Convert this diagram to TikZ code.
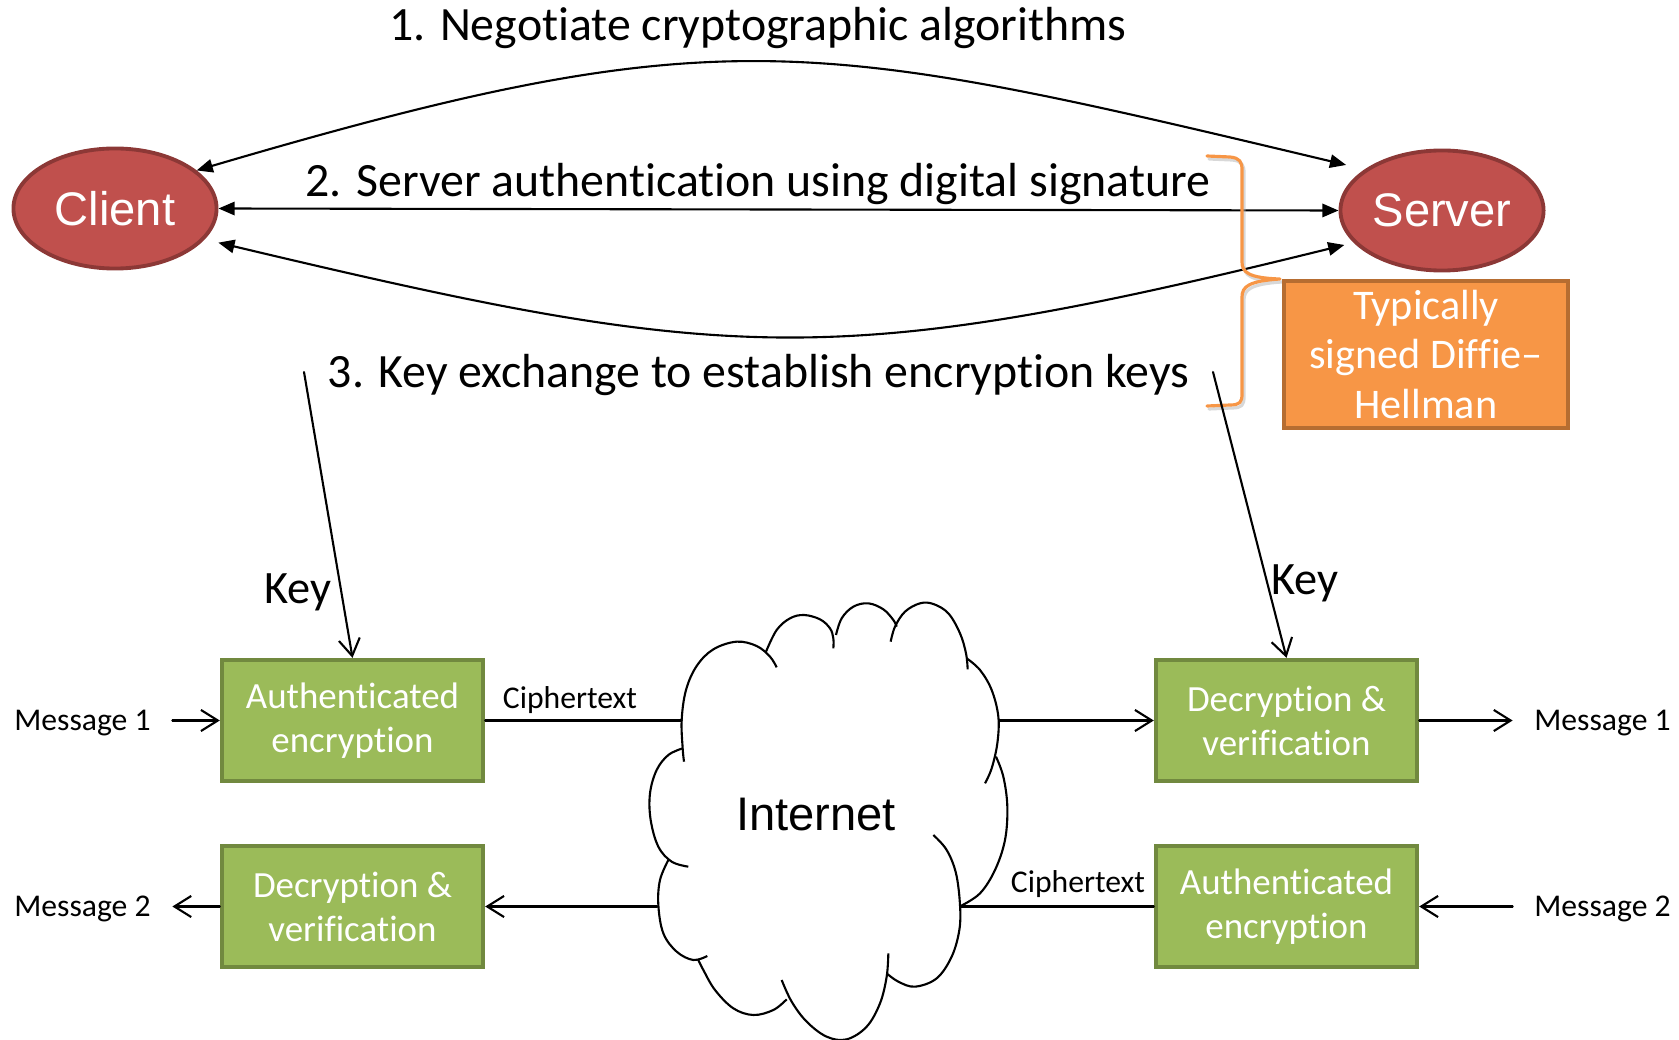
\documentclass[tikz,border=0pt]{standalone}
\usepackage{fontspec}
\setmainfont{Carlito}[RawFeature={-liga;-clig;-calt;-dlig}]
\newfontfamily\arialf{Liberation Sans}
\usetikzlibrary{arrows.meta,shapes.geometric}

\definecolor{ellfill}{HTML}{C0504D}
\definecolor{ellline}{HTML}{8C3836}
\definecolor{grnfill}{HTML}{9BBB59}
\definecolor{grnline}{HTML}{71893F}
\definecolor{orgfill}{HTML}{F79646}
\definecolor{orgline}{HTML}{B66D31}

\tikzset{
  party/.style={ellipse, draw=ellline, fill=ellfill, line width=1.1pt,
    minimum width=2.03cm, minimum height=1.20cm, inner sep=0pt,
    text=white, font=\arialf\fontsize{13.4}{16}\selectfont},
  procbox/.style={rectangle, draw=grnline, fill=grnfill, line width=1.2pt,
    minimum width=2.61cm, minimum height=1.21cm, inner sep=0pt,
    text=white, align=center, font=\fontsize{10.5}{12.5}\selectfont},
  notebox/.style={rectangle, draw=orgline, fill=orgfill, line width=1.2pt,
    minimum width=2.84cm, minimum height=1.47cm, inner sep=0pt,
    text=white, align=center, font=\fontsize{12}{14.2}\selectfont},
  steplbl/.style={anchor=base, inner sep=0pt, font=\fontsize{13.6}{16}\selectfont},
  keylbl/.style={anchor=base, inner sep=0pt, font=\fontsize{13.2}{16}\selectfont},
  msglbl/.style={anchor=base, inner ysep=0pt, inner xsep=0.21cm, font=\fontsize{9}{11}\selectfont},
  smalllbl/.style={anchor=base, inner sep=0pt, font=\fontsize{9}{11}\selectfont},
  link/.style={line width=0.6pt, line cap=round},
  flow/.style={link, -{Straight Barb[length=4.8pt,width=6pt]}},
  twoway/.style={link, {Triangle[length=4.6pt,width=3.8pt]}-{Triangle[length=4.6pt,width=3.8pt]}},
  bracestroke/.style={line width=0.9pt, line join=round, line cap=round},
}

\begin{document}
\begin{tikzpicture}[x=0.01cm, y=-0.01cm]
\useasboundingbox (0,0) rectangle (1679,1040);

% parties
\node[party] (client) at (115,208.5) {Client};
\node[party] (server) at (1442,210.5) {Server};

% handshake steps
\node[steplbl] (s1) at (758,41) {1. Negotiate cryptographic algorithms};
\node[steplbl] (s2) at (758,197) {2. Server authentication using digital signature};
\node[steplbl] (s3) at (758.5,388) {3. Key exchange to establish encryption keys};

\draw[twoway, shorten >=0.19cm] (client.25) .. controls (721,16) and (813,38) .. (server.152);
\draw[twoway] (client.east) -- (server.west);
\draw[twoway, shorten <=0.14cm, shorten >=0.095cm] (client.-19) .. controls (728,364) and (834,371) .. (server.200);

% brace grouping steps 2 and 3, with its soft shadow
\def\bracepath{(1207,156) -- (1230,157) .. controls (1240,158) and (1242,162) .. (1242,170) -- (1242,262) .. controls (1242,272) and (1248,278) .. (1280,279) .. controls (1248,281) and (1242,287) .. (1242,297) -- (1242,394) .. controls (1242,402) and (1240,405) .. (1230,405) -- (1207,406)}
\draw[bracestroke, black!30, opacity=0.5, shift={(2,3)}] \bracepath;
\draw[bracestroke, orgfill] \bracepath;

\node[notebox] (note) at (1426,354.5) {Typically\\signed Diffie–\\Hellman};

% record protection boxes
\node[procbox] (encL) at (352.5,720.5) {Authenticated\\encryption};
\node[procbox] (decL) at (352.5,906.5) {Decryption \&\\verification};
\node[procbox] (decR) at (1286.5,720.5) {Decryption \&\\verification};
\node[procbox] (encR) at (1286.5,906.5) {Authenticated\\encryption};

% keys delivered by the key exchange
\coordinate (kL) at (304,372);
\coordinate (kR) at (1213,372);
\draw[flow] (kL) -- (encL.north);
\draw[flow] (kR) -- (decR.north);
\node[keylbl] (keyL) at (298,603) {Key};
\node[keylbl] (keyR) at (1305,594) {Key};

% messages
\node[msglbl] (m1l) at (82.5,730) {Message 1};
\node[msglbl] (m2l) at (82.5,916) {Message 2};
\node[msglbl] (m1r) at (1602.5,730) {Message 1};
\node[msglbl] (m2r) at (1602.5,916) {Message 2};

% the Internet cloud
\begin{scope}[shift={(600,580)}, scale=1/3, line width=0.6pt]
  \draw plot[smooth, tension=0.6] coordinates {(252,545) (248,505) (245,420) (258,330) (290,258) (340,208) (410,185) (470,198) (510,230) (530,262)};
  \draw plot[smooth, tension=0.6] coordinates {(498,215) (530,150) (570,115) (612,105) (660,118) (690,145) (700,175) (700,205)};
  \draw plot[smooth, tension=0.6] coordinates {(708,165) (725,115) (760,80) (805,70) (850,88) (880,120) (890,140)};
  \draw plot[smooth, tension=0.6] coordinates {(872,185) (885,140) (915,95) (960,70) (1000,72) (1045,100) (1080,160) (1098,220) (1103,268)};
  \draw plot[smooth, tension=0.6] coordinates {(1100,235) (1140,270) (1175,330) (1195,410) (1192,490) (1175,565) (1155,610)};
  \draw plot[smooth, tension=0.6] coordinates {(1188,530) (1210,590) (1222,680) (1215,780) (1185,870) (1140,940) (1082,978)};
  \draw plot[smooth, tension=0.6] coordinates {(1000,765) (1040,810) (1068,880) (1080,975) (1078,1050) (1055,1130) (1010,1195) (945,1220) (895,1205) (860,1180)};
  \draw plot[smooth, tension=0.6] coordinates {(865,1120) (860,1190) (840,1270) (800,1340) (740,1378) (680,1370) (620,1325) (575,1265) (545,1200)};
  \draw plot[smooth, tension=0.6] coordinates {(560,1258) (520,1290) (460,1305) (400,1285) (345,1230) (310,1170) (295,1140)};
  \draw plot[smooth, tension=0.6] coordinates {(205,840) (180,900) (175,975) (190,1060) (230,1115) (280,1140) (322,1128)};
  \draw plot[smooth, tension=0.6] coordinates {(248,505) (205,525) (170,570) (150,640) (152,720) (175,800) (215,845) (265,860)};
\end{scope}
\node[anchor=base, inner sep=0pt, font=\arialf\fontsize{13.4}{16}\selectfont] (net) at (816,830) {Internet};
\coordinate (cW1) at (681.7,720.5);
\coordinate (cE1) at (999.3,720.5);
\coordinate (cW2) at (657.3,906.5);
\coordinate (cE2) at (960.7,906.5);

% record flow
\draw[flow] (m1l.east |- encL.west) -- (encL.west);
\draw[link] (encL.east) -- (cW1);
\draw[flow] (cE1) -- (decR.west);
\draw[flow] (decR.east) -- (m1r.west |- decR.east);
\draw[flow] (m2r.west |- encR.east) -- (encR.east);
\draw[link] (encR.west) -- (cE2);
\draw[flow] (cW2) -- (decL.east);
\draw[flow] (decL.west) -- (m2l.east |- decL.west);

\node[smalllbl] (ct1) at (570,708) {Ciphertext};
\node[smalllbl] (ct2) at (1078,892) {Ciphertext};
\end{tikzpicture}
\end{document}
